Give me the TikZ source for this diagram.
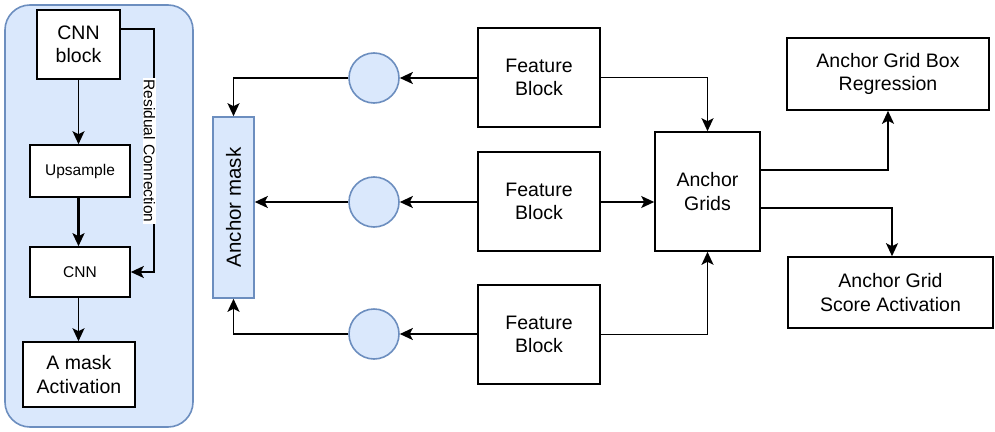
\documentclass[tikz,border=0pt]{standalone}
\usepackage{fontspec}
\setmainfont{Liberation Sans}
\usetikzlibrary{arrows.meta,calc}
\definecolor{paleblue}{HTML}{DAE8FC}
\definecolor{edgeblue}{HTML}{6C8EBF}
\tikzset{
	blk/.style={draw=black, line width=1.6pt, fill=white, align=center, inner sep=0pt, font=\fontsize{19.5}{23.5}\selectfont},
	smallblk/.style={blk, font=\fontsize{15.5}{19}\selectfont},
	dot/.style={circle, draw=edgeblue, fill=paleblue, line width=1.6pt, minimum size=50pt, inner sep=0pt},
	conn/.style={line width=1.8pt, -{Stealth[length=13pt,width=12pt,inset=3pt]}}
}
\begin{document}
		\begin{tikzpicture}[x=1pt, y=-1pt]
			%%%%% START %%%%%
			\useasboundingbox (0, 0) rectangle (995, 431);
			
			\draw[draw=edgeblue, fill=paleblue, line width=1.6pt, rounded corners=25pt] (5, 5) rectangle (193, 427);
			
			\node[blk, minimum width=83pt, minimum height=69pt] (cnnblock) at (78.5, 44.5) {CNN\\block};
			\node[smallblk, minimum width=100pt, minimum height=52pt] (upsample) at (80, 171) {Upsample};
			\node[smallblk, minimum width=100pt, minimum height=50pt] (cnn) at (80, 272) {CNN};
			\node[blk, minimum width=112pt, minimum height=65pt] (amask) at (79, 374.5) {A mask\\Activation};
			
			\draw[conn] (cnnblock.south) -- (cnnblock.south |- upsample.north);
			\draw[conn, line width=2.6pt] (upsample.south -| cnnblock.south) -- (cnnblock.south |- cnn.north);
			\draw[conn] (cnnblock.south |- cnn.south) -- (cnnblock.south |- amask.north);
			\draw[conn] ([yshift=15.5pt]cnnblock.east) -- ++(33, 0) |- (cnn.east);
			\node[fill=white, inner sep=1pt, rotate=-90, font=\fontsize{15.5}{18}\selectfont] (reslabel) at (149.5, 151) {Residual Connection};
			
			\node[draw=edgeblue, fill=paleblue, line width=1.6pt, minimum width=41pt, minimum height=181pt, inner sep=0pt] (anchormask) at (233.5, 207.5) {};
			\node[rotate=90, font=\fontsize{20.5}{24}\selectfont] (masklabel) at (anchormask.center) {Anchor mask};
			
			\node[dot] (c1) at (374, 78) {};
			\node[dot] (c2) at (374, 202) {};
			\node[dot] (c3) at (374, 334) {};
			
			\node[blk, minimum width=122pt, minimum height=99pt] (fb1) at (539, 77.5) {Feature\\Block};
			\node[blk, minimum width=122pt, minimum height=99pt] (fb2) at (539, 201.5) {Feature\\Block};
			\node[blk, minimum width=122pt, minimum height=99pt] (fb3) at (539, 334.5) {Feature\\Block};
			
			\node[blk, minimum width=105pt, minimum height=119pt] (grids) at (707.5, 191.5) {Anchor\\Grids};
			\node[blk, minimum width=202pt, minimum height=72pt] (boxreg) at (888, 74) {Anchor Grid Box\\Regression};
			\node[blk, minimum width=205pt, minimum height=71pt] (score) at (890.5, 292.5) {Anchor Grid\\Score Activation};
			
			\draw[conn] (fb1.west |- c1.east) -- (c1.east);
			\draw[conn] (fb2.west |- c2.east) -- (c2.east);
			\draw[conn] (fb3.west |- c3.east) -- (c3.east);
			
			\draw[conn] (c1.west) -| (anchormask.north);
			\draw[conn] (c2.west) -- (c2.west -| anchormask.east);
			\draw[conn] (c3.west) -| (anchormask.south);
			
			\draw[conn] (fb1.east) -| (grids.north);
			\draw[conn] (fb2.east |- c2.east) -- (c2.east -| grids.west);
			\draw[conn] (fb3.east) -| (grids.south);
			
			\draw[conn] ([yshift=21.5pt]grids.east) -| (boxreg.south);
			\draw[conn] ([yshift=-16.5pt]grids.east) -| ([xshift=1.5pt]score.north);
			
			%%%%% END %%%%%
		\end{tikzpicture}
\end{document}
